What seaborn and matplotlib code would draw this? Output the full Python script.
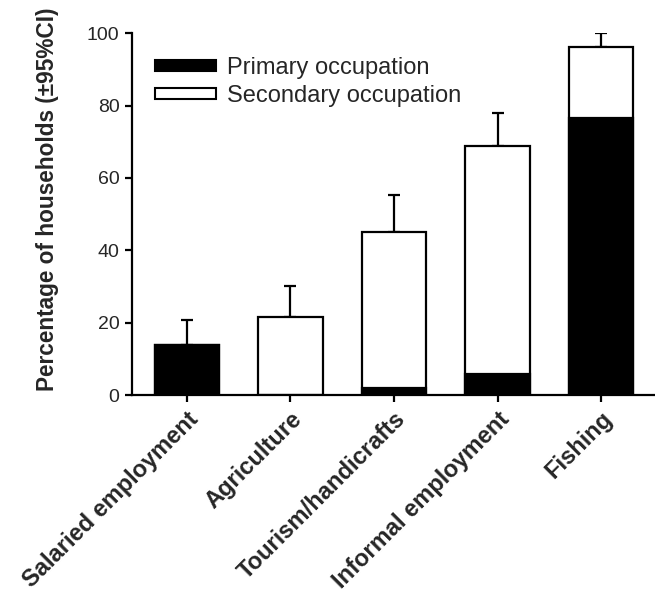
import numpy as np
import pandas as pd
import matplotlib
matplotlib.use("Agg")
import matplotlib.pyplot as plt
import seaborn as sns
from matplotlib.patches import Patch

categories = ["Salaried employment", "Agriculture", "Tourism/handicrafts",
              "Informal employment", "Fishing"]
primary = [13.8, 0.0, 2.0, 5.8, 76.6]
total = [13.8, 21.6, 45.2, 68.7, 96.2]   # primary + secondary
ci_upper = [20.7, 30.0, 55.2, 78.0, 100.0]

sns.set_theme(style="ticks")
plt.rcParams["font.family"] = ["Liberation Sans", "DejaVu Sans"]

df = pd.DataFrame({"cat": categories, "primary": primary, "total": total})

fig = plt.figure(figsize=(6.55, 5.94), dpi=100)
ax = fig.add_axes([0.2015, 0.335, 0.7985, 0.609])

x = np.arange(len(categories))
err = np.array(ci_upper) - np.array(total)
ax.errorbar(x, total, yerr=[np.zeros_like(err), err], fmt="none",
            ecolor="black", elinewidth=1.6, capsize=4, capthick=1.6, zorder=1)

# white total bar (primary + secondary), primary part drawn black over it
sns.barplot(data=df, x="cat", y="total", color="white", edgecolor="black",
            linewidth=1.6, width=0.62, ax=ax, saturation=1, zorder=2)
sns.barplot(data=df, x="cat", y="primary", color="black", edgecolor="black",
            linewidth=1.6, width=0.62, ax=ax, saturation=1, zorder=3)
for p in ax.patches[len(categories):]:
    if p.get_height() == 0:
        p.set_visible(False)

ax.set_ylim(0, 100)
ax.set_xlim(-0.53, 4.52)
ax.set_yticks([0, 20, 40, 60, 80, 100])
ax.set_xlabel("")
ax.set_ylabel("Percentage of households (±95%CI)", fontsize=16.3,
              fontweight="bold")
ax.yaxis.set_label_coords(-0.14, 0.54)
ax.set_xticks(x)
ax.set_xticklabels(categories, rotation=45, ha="right", rotation_mode="anchor",
                   fontsize=17, fontweight="bold")
ax.tick_params(axis="y", labelsize=14)
ax.tick_params(axis="both", width=1.6, length=5, color="black", pad=4)
for s in ["top", "right"]:
    ax.spines[s].set_visible(False)
for s in ["left", "bottom"]:
    ax.spines[s].set_linewidth(1.6)
    ax.spines[s].set_color("black")

handles = [Patch(facecolor="black", edgecolor="black", linewidth=1.5),
           Patch(facecolor="white", edgecolor="black", linewidth=1.5)]
ax.legend(handles, ["Primary occupation", "Secondary occupation"],
          loc="upper left", bbox_to_anchor=(0.044, 0.935), frameon=False,
          borderpad=0, borderaxespad=0, fontsize=17,
          handlelength=2.6, handleheight=0.35, labelspacing=0.25,
          handletextpad=0.45)

fig.savefig("out.png", dpi=100)
